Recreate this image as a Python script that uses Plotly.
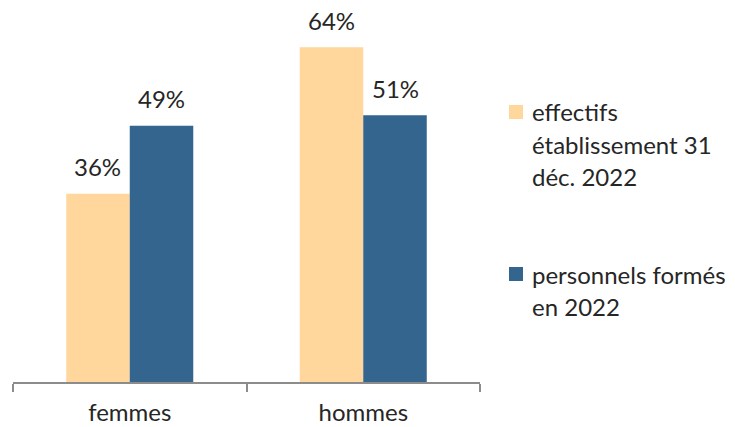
import plotly.graph_objects as go

categories = ["femmes", "hommes"]
effectifs = [36, 64]
formes = [49, 51]
series_names = ["effectifs<br>établissement 31<br>déc. 2022", "personnels formés<br>en 2022"]
colors = ["#FFD69C", "#33658F"]

FONT = "Lato"
FSIZE = 24
TXT = "#262626"

plot_top, plot_bottom, plot_left, plot_right = 18, 382, 13, 480
bargap = 0.456
cat_px = (plot_right - plot_left) / len(categories)
bar_px = cat_px * (1 - bargap) / 2

fig = go.Figure()
for k, (vals, name, col) in enumerate(zip([effectifs, formes], series_names, colors)):
    fig.add_trace(go.Bar(
        x=categories, y=vals, name=name, marker=dict(color=col, line=dict(width=0)),
        showlegend=False,
    ))
    # value labels above each bar
    for c, v in zip(categories, vals):
        fig.add_annotation(x=c, y=v, text=f"{v}%", showarrow=False,
                           xshift=(k - 0.5) * bar_px, yshift=27, yanchor="middle",
                           font=dict(size=FSIZE, color=TXT, family=FONT))

# legend drawn by hand so the multi-line spacing can be controlled
legend_y = [(112, series_names[0].split("<br>")), (274, series_names[1].split("<br>"))]
def px_to_paper_y(py):
    return (plot_bottom - py) / (plot_bottom - plot_top)
def px_to_paper_x(px):
    return (px - plot_left) / (plot_right - plot_left)

for (y0, lines), col in zip(legend_y, colors):
    fig.add_shape(type="rect", xref="paper", yref="paper",
                  x0=px_to_paper_x(509), x1=px_to_paper_x(523),
                  y0=px_to_paper_y(y0 - 7), y1=px_to_paper_y(y0 + 7),
                  fillcolor=col, line=dict(width=0))
    for i, line in enumerate(lines):
        fig.add_annotation(xref="paper", yref="paper", x=px_to_paper_x(530),
                           y=px_to_paper_y(y0 + i * 32), text=line, showarrow=False,
                           xanchor="left", yanchor="middle",
                           font=dict(size=FSIZE, color=TXT, family=FONT))

fig.update_layout(
    width=735, height=427,
    margin=dict(l=plot_left, r=735 - plot_right, t=plot_top, b=427 - plot_bottom),
    paper_bgcolor="white", plot_bgcolor="white",
    barmode="group", bargap=bargap, bargroupgap=0,
    xaxis=dict(showline=True, linecolor="#8C8C8C", linewidth=1.5,
               ticks="outside", tickson="boundaries", ticklen=8, tickcolor="#8C8C8C",
               tickwidth=1.5, ticklabelstandoff=8, automargin=False,
               tickfont=dict(size=FSIZE, color=TXT, family=FONT)),
    yaxis=dict(range=[0, 69.6], visible=False, showgrid=False, automargin=False),
)

fig.write_html("out.html")
